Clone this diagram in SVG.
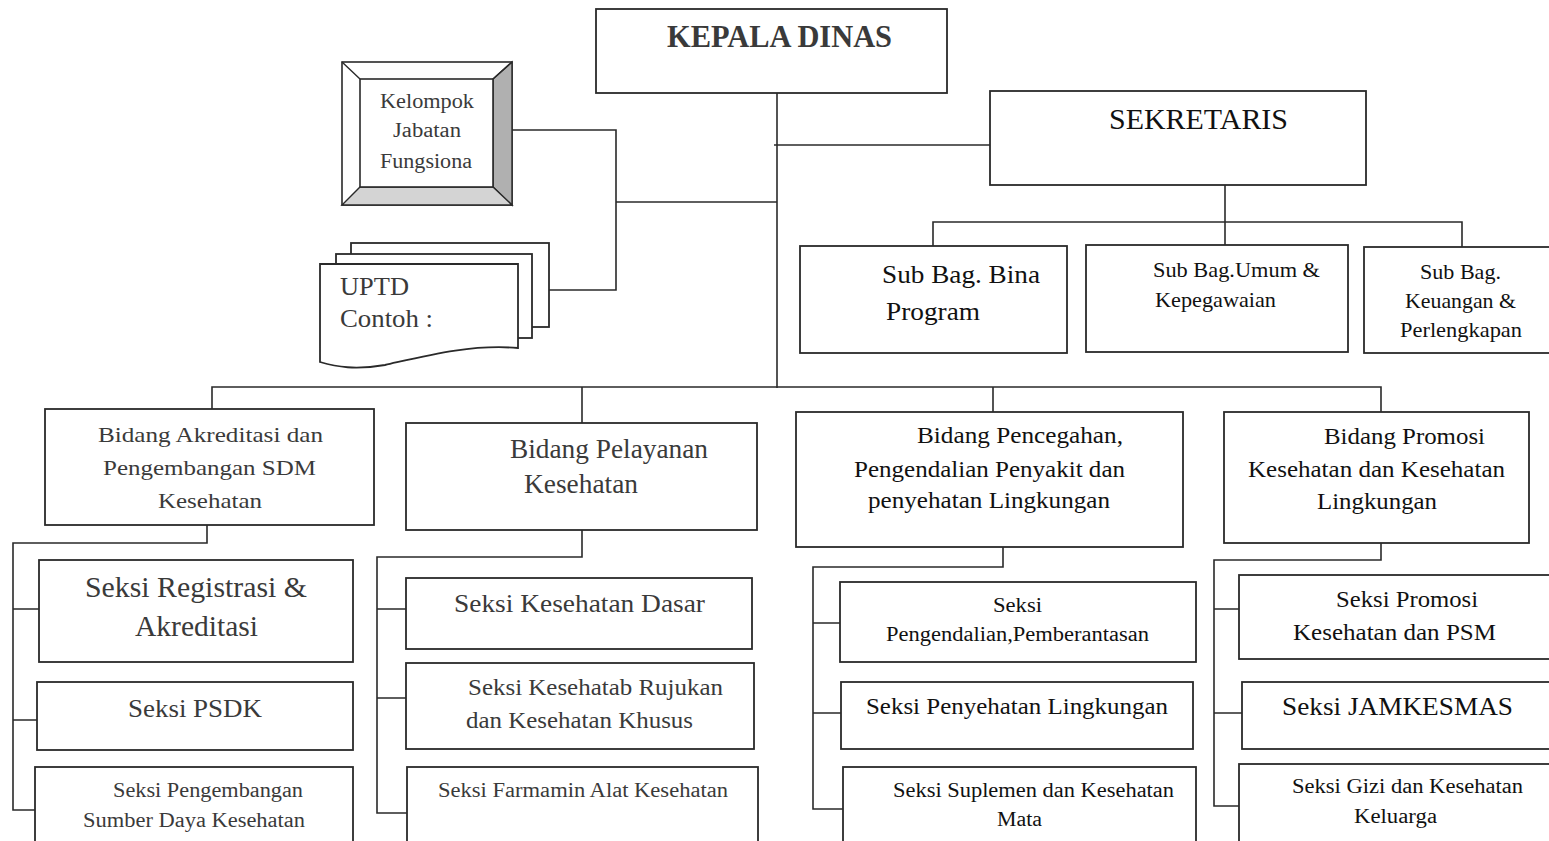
<svg xmlns="http://www.w3.org/2000/svg" width="1549" height="841" viewBox="0 0 1549 841" font-family="'Liberation Serif', 'Times New Roman', serif">
<style>
  .bx{fill:#fff;stroke:#2a2a2a;stroke-width:1.8}
  .ln{fill:none;stroke:#2a2a2a;stroke-width:1.6}
  text{font-family:"Liberation Serif","Times New Roman",serif;fill:#3a3a3a}
  .dk{fill:#111}
</style>
<rect width="1549" height="841" fill="#fff"/>
<g id="connectors">
  <path class="ln" d="M777,80 V388"/>
  <path class="ln" d="M774,145 H990"/>
  <path class="ln" d="M616,202 H777"/>
  <path class="ln" d="M512,130 H616 V290 H549"/>
  <path class="ln" d="M1225,185 V245"/>
  <path class="ln" d="M933,246 V222 H1462 V247"/>
  <path class="ln" d="M212,409 V387 H1381 V412"/>
  <path class="ln" d="M582,387 V423"/>
  <path class="ln" d="M993,387 V412"/>
  <path class="ln" d="M207,525 V543 H13 V810 H35"/>
  <path class="ln" d="M13,609 H39 M13,720 H37"/>
  <path class="ln" d="M582,530 V557 H377 V813 H407"/>
  <path class="ln" d="M377,609 H406 M377,698 H406"/>
  <path class="ln" d="M1003,547 V567 H813 V809 H843"/>
  <path class="ln" d="M813,623 H840 M813,713 H841"/>
  <path class="ln" d="M1381,543 V560 H1214 V806 H1239"/>
  <path class="ln" d="M1214,609 H1239 M1214,713 H1242"/>
</g>
<g id="kepala-dinas">
  <rect class="bx" x="596" y="9" width="351" height="84"/>
  <text x="667" y="47" font-size="32" font-weight="bold" textLength="225" lengthAdjust="spacingAndGlyphs">KEPALA DINAS</text>
</g>
<g id="kelompok-jabatan">
  <rect x="342" y="62" width="170" height="143" fill="#fff" stroke="#2a2a2a" stroke-width="1.6"/>
  <polygon points="493,79 512,62 512,205 493,187" fill="#b0b0b0" stroke="#2a2a2a" stroke-width="1.4"/>
  <polygon points="360,187 493,187 512,205 342,205" fill="#d4d4d4" stroke="#2a2a2a" stroke-width="1.4"/>
  <path d="M342,62 L360,79 M512,62 L493,79" stroke="#2a2a2a" stroke-width="1.4"/>
  <rect x="360" y="79" width="133" height="108" fill="#fff" stroke="#2a2a2a" stroke-width="1.6"/>
  <text x="380" y="108" font-size="20" textLength="94" lengthAdjust="spacingAndGlyphs">Kelompok</text>
  <text x="393" y="137" font-size="20" textLength="68" lengthAdjust="spacingAndGlyphs">Jabatan</text>
  <text x="380" y="168" font-size="20" textLength="92" lengthAdjust="spacingAndGlyphs">Fungsiona</text>
</g>
<g id="uptd">
  <rect class="bx" x="351" y="243" width="198" height="84" stroke-width="1.6"/>
  <rect class="bx" x="336" y="254" width="196" height="84" stroke-width="1.6"/>
  <path class="bx" stroke-width="1.6" d="M320,264 H518 V348 C470,344 425,356 385,365 C355,370 337,367 320,362 Z"/>
  <text x="340" y="295" font-size="26" textLength="69" lengthAdjust="spacingAndGlyphs">UPTD</text>
  <text x="340" y="327" font-size="26" textLength="93" lengthAdjust="spacingAndGlyphs">Contoh :</text>
</g>
<g id="sekretaris">
  <rect class="bx" x="990" y="91" width="376" height="94"/>
  <text class="dk" x="1109" y="129" font-size="30" textLength="179" lengthAdjust="spacingAndGlyphs">SEKRETARIS</text>
</g>
<g id="subbag-bina-program">
  <rect class="bx" x="800" y="246" width="267" height="107"/>
  <text class="dk" x="882" y="283" font-size="26" textLength="158" lengthAdjust="spacingAndGlyphs">Sub Bag. Bina</text>
  <text class="dk" x="886" y="320" font-size="26" textLength="94" lengthAdjust="spacingAndGlyphs">Program</text>
</g>
<g id="subbag-umum">
  <rect class="bx" x="1086" y="245" width="262" height="107"/>
  <text class="dk" x="1153" y="277" font-size="21" textLength="167" lengthAdjust="spacingAndGlyphs">Sub Bag.Umum &amp;</text>
  <text class="dk" x="1155" y="307" font-size="21" textLength="121" lengthAdjust="spacingAndGlyphs">Kepegawaian</text>
</g>
<g id="subbag-keuangan">
  <rect class="bx" x="1364" y="247" width="200" height="106"/>
  <text class="dk" x="1420" y="279" font-size="21" textLength="81" lengthAdjust="spacingAndGlyphs">Sub Bag.</text>
  <text class="dk" x="1405" y="308" font-size="21" textLength="111" lengthAdjust="spacingAndGlyphs">Keuangan &amp;</text>
  <text class="dk" x="1400" y="337" font-size="21" textLength="122" lengthAdjust="spacingAndGlyphs">Perlengkapan</text>
</g>
<g id="bidang-akreditasi">
  <rect class="bx" x="45" y="409" width="329" height="116"/>
  <text x="98" y="442" font-size="22" textLength="225" lengthAdjust="spacingAndGlyphs">Bidang Akreditasi dan</text>
  <text x="103" y="475" font-size="22" textLength="213" lengthAdjust="spacingAndGlyphs">Pengembangan SDM</text>
  <text x="158" y="508" font-size="22" textLength="104" lengthAdjust="spacingAndGlyphs">Kesehatan</text>
</g>
<g id="bidang-pelayanan">
  <rect class="bx" x="406" y="423" width="351" height="107"/>
  <text x="510" y="458" font-size="27" textLength="198" lengthAdjust="spacingAndGlyphs">Bidang Pelayanan</text>
  <text x="524" y="493" font-size="27" textLength="114" lengthAdjust="spacingAndGlyphs">Kesehatan</text>
</g>
<g id="bidang-pencegahan">
  <rect class="bx" x="796" y="412" width="387" height="135"/>
  <text class="dk" x="917" y="443" font-size="23" textLength="206" lengthAdjust="spacingAndGlyphs">Bidang Pencegahan,</text>
  <text class="dk" x="854" y="477" font-size="23" textLength="271" lengthAdjust="spacingAndGlyphs">Pengendalian Penyakit dan</text>
  <text class="dk" x="868" y="508" font-size="23" textLength="242" lengthAdjust="spacingAndGlyphs">penyehatan Lingkungan</text>
</g>
<g id="bidang-promosi">
  <rect class="bx" x="1224" y="412" width="305" height="131"/>
  <text class="dk" x="1324" y="444" font-size="23" textLength="161" lengthAdjust="spacingAndGlyphs">Bidang Promosi</text>
  <text class="dk" x="1248" y="477" font-size="23" textLength="257" lengthAdjust="spacingAndGlyphs">Kesehatan dan Kesehatan</text>
  <text class="dk" x="1317" y="509" font-size="23" textLength="120" lengthAdjust="spacingAndGlyphs">Lingkungan</text>
</g>
<g id="seksi-registrasi">
  <rect class="bx" x="39" y="560" width="314" height="102"/>
  <text x="85" y="597" font-size="29" textLength="222" lengthAdjust="spacingAndGlyphs">Seksi Registrasi &amp;</text>
  <text x="135" y="636" font-size="29" textLength="123" lengthAdjust="spacingAndGlyphs">Akreditasi</text>
</g>
<g id="seksi-psdk">
  <rect class="bx" x="37" y="682" width="316" height="68"/>
  <text x="128" y="717" font-size="26" textLength="134" lengthAdjust="spacingAndGlyphs">Seksi PSDK</text>
</g>
<g id="seksi-pengembangan">
  <rect class="bx" x="35" y="767" width="318" height="90"/>
  <text x="113" y="797" font-size="20" textLength="190" lengthAdjust="spacingAndGlyphs">Seksi Pengembangan</text>
  <text x="83" y="827" font-size="20" textLength="222" lengthAdjust="spacingAndGlyphs">Sumber Daya Kesehatan</text>
</g>
<g id="seksi-kesehatan-dasar">
  <rect class="bx" x="406" y="578" width="346" height="71"/>
  <text x="454" y="612" font-size="26" textLength="251" lengthAdjust="spacingAndGlyphs">Seksi Kesehatan Dasar</text>
</g>
<g id="seksi-rujukan">
  <rect class="bx" x="406" y="663" width="348" height="86"/>
  <text x="468" y="695" font-size="23" textLength="255" lengthAdjust="spacingAndGlyphs">Seksi Kesehatab Rujukan</text>
  <text x="466" y="728" font-size="23" textLength="227" lengthAdjust="spacingAndGlyphs">dan Kesehatan Khusus</text>
</g>
<g id="seksi-farmamin">
  <rect class="bx" x="407" y="767" width="351" height="90"/>
  <text x="438" y="797" font-size="20" textLength="290" lengthAdjust="spacingAndGlyphs">Seksi Farmamin Alat Kesehatan</text>
</g>
<g id="seksi-pengendalian">
  <rect class="bx" x="840" y="582" width="356" height="80"/>
  <text class="dk" x="993" y="612" font-size="20" textLength="49" lengthAdjust="spacingAndGlyphs">Seksi</text>
  <text class="dk" x="886" y="641" font-size="20" textLength="263" lengthAdjust="spacingAndGlyphs">Pengendalian,Pemberantasan</text>
</g>
<g id="seksi-penyehatan">
  <rect class="bx" x="841" y="682" width="352" height="67"/>
  <text class="dk" x="866" y="714" font-size="23" textLength="302" lengthAdjust="spacingAndGlyphs">Seksi Penyehatan Lingkungan</text>
</g>
<g id="seksi-suplemen">
  <rect class="bx" x="843" y="767" width="353" height="90"/>
  <text class="dk" x="893" y="797" font-size="20" textLength="281" lengthAdjust="spacingAndGlyphs">Seksi Suplemen dan Kesehatan</text>
  <text class="dk" x="997" y="826" font-size="20" textLength="45" lengthAdjust="spacingAndGlyphs">Mata</text>
</g>
<g id="seksi-promosi">
  <rect class="bx" x="1239" y="575" width="325" height="84"/>
  <text class="dk" x="1336" y="607" font-size="23" textLength="142" lengthAdjust="spacingAndGlyphs">Seksi Promosi</text>
  <text class="dk" x="1293" y="640" font-size="23" textLength="203" lengthAdjust="spacingAndGlyphs">Kesehatan dan PSM</text>
</g>
<g id="seksi-jamkesmas">
  <rect class="bx" x="1242" y="682" width="322" height="67"/>
  <text class="dk" x="1282" y="715" font-size="26" textLength="231" lengthAdjust="spacingAndGlyphs">Seksi JAMKESMAS</text>
</g>
<g id="seksi-gizi">
  <rect class="bx" x="1239" y="764" width="325" height="93"/>
  <text class="dk" x="1292" y="793" font-size="20" textLength="231" lengthAdjust="spacingAndGlyphs">Seksi Gizi dan Kesehatan</text>
  <text class="dk" x="1354" y="823" font-size="20" textLength="83" lengthAdjust="spacingAndGlyphs">Keluarga</text>
</g>
</svg>
